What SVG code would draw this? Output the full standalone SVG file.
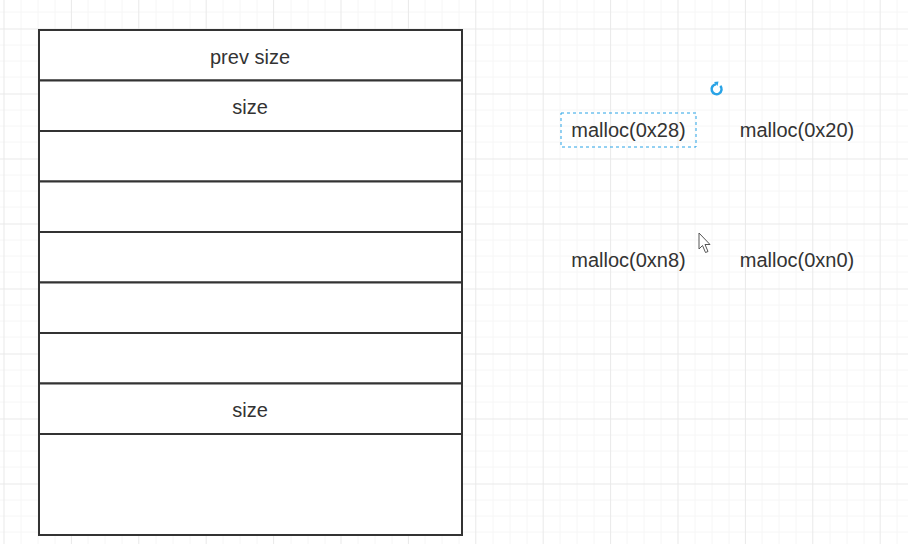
<svg xmlns="http://www.w3.org/2000/svg" width="908" height="544" viewBox="0 0 908 544">
<defs>
<style>
.grid-major{stroke:#e9e9e9;stroke-width:1}
.grid-minor{stroke:#f6f6f6;stroke-width:1}
.cell{fill:#ffffff;stroke:#333333;stroke-width:2}
.lbl{font-family:"Liberation Sans",Arial,sans-serif;font-size:20px;fill:#333333;text-anchor:middle;dominant-baseline:central}
</style>
</defs>
<rect width="908" height="544" fill="#ffffff"/>
<g id="grid">
<g class="grid-minor">
<path d="M21 0V544M38 0V544M55 0V544M88 0V544M105 0V544M122 0V544M156 0V544M173 0V544M190 0V544M223 0V544M240 0V544M257 0V544M291 0V544M308 0V544M325 0V544M358 0V544M375 0V544M392 0V544M425 0V544M442 0V544M459 0V544M493 0V544M510 0V544M527 0V544M560 0V544M577 0V544M594 0V544M627 0V544M644 0V544M661 0V544M695 0V544M712 0V544M729 0V544M762 0V544M779 0V544M796 0V544M830 0V544M847 0V544M864 0V544M897 0V544"/>
<path d="M0 12H908M0 45H908M0 61H908M0 77H908M0 110H908M0 126H908M0 142H908M0 175H908M0 191H908M0 207H908M0 240H908M0 256H908M0 272H908M0 305H908M0 321H908M0 337H908M0 370H908M0 386H908M0 402H908M0 435H908M0 451H908M0 467H908M0 500H908M0 516H908M0 532H908"/>
</g>
<g class="grid-major">
<path d="M4 0V544M71.4 0V544M138.8 0V544M206.2 0V544M273.6 0V544M341 0V544M408.4 0V544M475.8 0V544M543.2 0V544M610.6 0V544M678 0V544M745.4 0V544M812.8 0V544M880.2 0V544"/>
<path d="M0 29H908M0 94H908M0 159H908M0 224H908M0 289H908M0 354H908M0 419H908M0 484H908"/>
</g>
</g>
<g id="chunk">
<g id="row-prev-size"><rect class="cell" x="39" y="30" width="423" height="50.5"/><text class="lbl" x="250" y="57">prev size</text></g>
<g id="row-size"><rect class="cell" x="39" y="80.5" width="423" height="50.5"/><text class="lbl" x="250" y="107">size</text></g>
<g id="row-3"><rect class="cell" x="39" y="131" width="423" height="50.5"/></g>
<g id="row-4"><rect class="cell" x="39" y="181.5" width="423" height="50.5"/></g>
<g id="row-5"><rect class="cell" x="39" y="232" width="423" height="50.5"/></g>
<g id="row-6"><rect class="cell" x="39" y="282.5" width="423" height="50.5"/></g>
<g id="row-7"><rect class="cell" x="39" y="333" width="423" height="50.5"/></g>
<g id="row-next-size"><rect class="cell" x="39" y="383.5" width="423" height="50.5"/><text class="lbl" x="250" y="410">size</text></g>
<g id="row-data"><rect class="cell" x="39" y="434" width="423" height="101"/></g>
</g>
<g id="connectors"/>
<g id="malloc-0x28">
<rect x="561" y="113" width="135" height="34" fill="none" stroke="#29a3e6" stroke-width="1" stroke-dasharray="3 3"/>
<text class="lbl" x="628.5" y="130">malloc(0x28)</text>
</g>
<g id="malloc-0x20"><text class="lbl" x="797" y="130">malloc(0x20)</text></g>
<g id="malloc-0xn8"><text class="lbl" x="628.5" y="260">malloc(0xn8)</text></g>
<g id="malloc-0xn0"><text class="lbl" x="797" y="260">malloc(0xn0)</text></g>
<g id="rotate-handle">
<path d="M716 84.2 A5 5 0 1 0 720.3 85.8" fill="none" stroke="#29a3e6" stroke-width="2.5"/>
<path d="M714 82 L718.5 81.5 L717.5 86 Z" fill="#29a3e6"/>
</g>
<g id="cursor">
<path d="M699 233 L699 249 L702.5 245.5 L705.5 252.5 L708 251.5 L705 244.5 L710 244.5 Z" fill="#ffffff" stroke="#555555" stroke-width="1" stroke-linejoin="round"/>
</g>
</svg>
